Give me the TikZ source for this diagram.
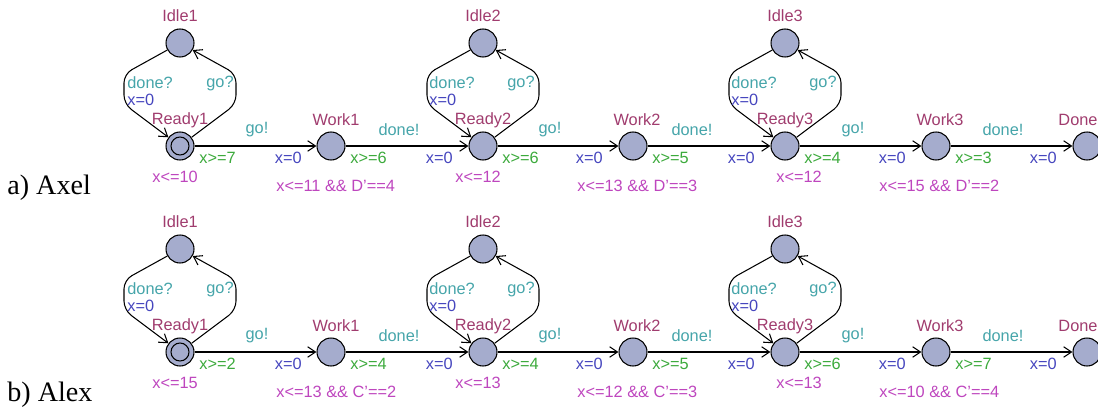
\documentclass[tikz,border=0pt]{standalone}
\usepackage{fontspec}
\setmainfont{Liberation Serif}
\setsansfont{Liberation Sans}
\usetikzlibrary{arrows.meta}
\definecolor{locfill}{RGB}{165,172,205}
\definecolor{namecol}{RGB}{160,60,110}
\definecolor{chancol}{RGB}{70,165,170}
\definecolor{asgcol}{RGB}{70,70,190}
\definecolor{grdcol}{RGB}{60,170,60}
\definecolor{invcol}{RGB}{190,70,190}
\tikzset{
  loc/.style={circle,draw,line width=0.6pt,fill=locfill,minimum size=0.56cm,inner sep=0pt},
  initloc/.style={loc,path picture={\draw[line width=0.6pt] (path picture bounding box.center) circle (0.18cm);}},
  trans/.style={line width=0.6pt,-{Straight Barb[length=4.5pt,width=6pt]}},
  lbl/.style={inner sep=0pt,font=\sffamily\fontsize{9.3}{10}\selectfont},
  locname/.style={lbl,text=namecol},
  chan/.style={lbl,text=chancol},
  asg/.style={lbl,text=asgcol},
  grd/.style={lbl,text=grdcol},
  inv/.style={lbl,text=invcol},
  rowname/.style={anchor=west,inner sep=0pt,font=\fontsize{16}{18}\selectfont}
}
\begin{document}
\begin{tikzpicture}[x=0.02cm,y=-0.02cm]
        \useasboundingbox (0,0) rectangle (1098,412);
        % a) Axel
        \node[rowname] (rowA) at (7,188) {a) Axel};
        \node[loc] (idleA1) at (180,43) {};
        \node[initloc] (readyA1) at (180,146) {};
        \node[loc] (workA1) at (331,146) {};
        \node[loc] (idleA2) at (483,43) {};
        \node[loc] (readyA2) at (483,146) {};
        \node[loc] (workA2) at (633,146) {};
        \node[loc] (idleA3) at (785,43) {};
        \node[loc] (readyA3) at (785,146) {};
        \node[loc] (workA3) at (936,146) {};
        \node[loc] (doneA) at (1087,146) {};

        \node[locname] (nIdleA1) at (180,16) {Idle1};
        \node[locname] (nReadyA1) at (180,120) {Ready1};
        \node[locname] (nWorkA1) at (336,120) {Work1};
        \node[locname] (nIdleA2) at (483,16) {Idle2};
        \node[locname] (nReadyA2) at (483,120) {Ready2};
        \node[locname] (nWorkA2) at (637,120) {Work2};
        \node[locname] (nIdleA3) at (785,16) {Idle3};
        \node[locname] (nReadyA3) at (785,120) {Ready3};
        \node[locname] (nWorkA3) at (940,120) {Work3};
        \node[locname] (nDoneA) at (1078,120) {Done};

        \draw[trans,rounded corners=5pt] (idleA1) -- +(-56,31) -- +(-56,61) -- (readyA1);
        \draw[trans,rounded corners=5pt] (readyA1) -- +(56,-42) -- +(56,-72) -- (idleA1);
        \draw[trans,rounded corners=5pt] (idleA2) -- +(-56,31) -- +(-56,61) -- (readyA2);
        \draw[trans,rounded corners=5pt] (readyA2) -- +(56,-42) -- +(56,-72) -- (idleA2);
        \draw[trans,rounded corners=5pt] (idleA3) -- +(-56,31) -- +(-56,61) -- (readyA3);
        \draw[trans,rounded corners=5pt] (readyA3) -- +(56,-42) -- +(56,-72) -- (idleA3);
        \draw[trans] (readyA1) -- (workA1);
        \draw[trans] (workA1) -- (readyA2);
        \draw[trans] (readyA2) -- (workA2);
        \draw[trans] (workA2) -- (readyA3);
        \draw[trans] (readyA3) -- (workA3);
        \draw[trans] (workA3) -- (doneA);

        % loops
        \node[chan,anchor=west] (cDoneA1) at (127,83) {done?};
        \node[asg,anchor=west] (aLoopA1) at (127,100) {x=0};
        \node[chan] (cGoA1) at (220,83) {go?};
        \node[chan,anchor=west] (cDoneA2) at (429,83) {done?};
        \node[asg,anchor=west] (aLoopA2) at (429,100) {x=0};
        \node[chan] (cGoA2) at (521,83) {go?};
        \node[chan,anchor=west] (cDoneA3) at (731,83) {done?};
        \node[asg,anchor=west] (aLoopA3) at (731,100) {x=0};
        \node[chan] (cGoA3) at (823,83) {go?};

        % channels
        \node[chan] (cGoA4) at (257,130) {go!};
        \node[chan] (cDoneA4) at (399,130) {done!};
        \node[chan] (cGoA5) at (550,130) {go!};
        \node[chan] (cDoneA5) at (692,130) {done!};
        \node[chan] (cGoA6) at (853,130) {go!};
        \node[chan] (cDoneA6) at (1003,130) {done!};

        % guards and resets
        \node[grd,anchor=west] (gA1) at (199,158) {x>=7};
        \node[asg,anchor=east] (aA1) at (302,158) {x=0};
        \node[grd,anchor=west] (gA2) at (350,158) {x>=6};
        \node[asg,anchor=east] (aA2) at (453,158) {x=0};
        \node[grd,anchor=west] (gA3) at (502,158) {x>=6};
        \node[asg,anchor=east] (aA3) at (603,158) {x=0};
        \node[grd,anchor=west] (gA4) at (652,158) {x>=5};
        \node[asg,anchor=east] (aA4) at (755,158) {x=0};
        \node[grd,anchor=west] (gA5) at (804,158) {x>=4};
        \node[asg,anchor=east] (aA5) at (906,158) {x=0};
        \node[grd,anchor=west] (gA6) at (955,158) {x>=3};
        \node[asg,anchor=east] (aA6) at (1057,158) {x=0};

        % invariants
        \node[inv,anchor=west] (iA1) at (152,177) {x<=10};
        \node[inv,anchor=west] (iA2) at (276,186) {x<=11 \&\& D’==4};
        \node[inv,anchor=west] (iA3) at (455,177) {x<=12};
        \node[inv,anchor=west] (iA4) at (577,186) {x<=13 \&\& D’==3};
        \node[inv,anchor=west] (iA5) at (776,177) {x<=12};
        \node[inv,anchor=west] (iA6) at (879,186) {x<=15 \&\& D’==2};

        % b) Alex
        \node[rowname] (rowB) at (7,395) {b) Alex};
        \node[loc] (idleB1) at (180,249) {};
        \node[initloc] (readyB1) at (180,352) {};
        \node[loc] (workB1) at (331,352) {};
        \node[loc] (idleB2) at (483,249) {};
        \node[loc] (readyB2) at (483,352) {};
        \node[loc] (workB2) at (633,352) {};
        \node[loc] (idleB3) at (785,249) {};
        \node[loc] (readyB3) at (785,352) {};
        \node[loc] (workB3) at (936,352) {};
        \node[loc] (doneB) at (1087,352) {};

        \node[locname] (nIdleB1) at (180,222) {Idle1};
        \node[locname] (nReadyB1) at (180,326) {Ready1};
        \node[locname] (nWorkB1) at (336,326) {Work1};
        \node[locname] (nIdleB2) at (483,222) {Idle2};
        \node[locname] (nReadyB2) at (483,326) {Ready2};
        \node[locname] (nWorkB2) at (637,326) {Work2};
        \node[locname] (nIdleB3) at (785,222) {Idle3};
        \node[locname] (nReadyB3) at (785,326) {Ready3};
        \node[locname] (nWorkB3) at (940,326) {Work3};
        \node[locname] (nDoneB) at (1078,326) {Done};

        \draw[trans,rounded corners=5pt] (idleB1) -- +(-56,31) -- +(-56,61) -- (readyB1);
        \draw[trans,rounded corners=5pt] (readyB1) -- +(56,-42) -- +(56,-72) -- (idleB1);
        \draw[trans,rounded corners=5pt] (idleB2) -- +(-56,31) -- +(-56,61) -- (readyB2);
        \draw[trans,rounded corners=5pt] (readyB2) -- +(56,-42) -- +(56,-72) -- (idleB2);
        \draw[trans,rounded corners=5pt] (idleB3) -- +(-56,31) -- +(-56,61) -- (readyB3);
        \draw[trans,rounded corners=5pt] (readyB3) -- +(56,-42) -- +(56,-72) -- (idleB3);
        \draw[trans] (readyB1) -- (workB1);
        \draw[trans] (workB1) -- (readyB2);
        \draw[trans] (readyB2) -- (workB2);
        \draw[trans] (workB2) -- (readyB3);
        \draw[trans] (readyB3) -- (workB3);
        \draw[trans] (workB3) -- (doneB);

        % loops
        \node[chan,anchor=west] (cDoneB1) at (127,289) {done?};
        \node[asg,anchor=west] (aLoopB1) at (127,306) {x=0};
        \node[chan] (cGoB1) at (220,289) {go?};
        \node[chan,anchor=west] (cDoneB2) at (429,289) {done?};
        \node[asg,anchor=west] (aLoopB2) at (429,306) {x=0};
        \node[chan] (cGoB2) at (521,289) {go?};
        \node[chan,anchor=west] (cDoneB3) at (731,289) {done?};
        \node[asg,anchor=west] (aLoopB3) at (731,306) {x=0};
        \node[chan] (cGoB3) at (823,289) {go?};

        % channels
        \node[chan] (cGoB4) at (257,336) {go!};
        \node[chan] (cDoneB4) at (399,336) {done!};
        \node[chan] (cGoB5) at (550,336) {go!};
        \node[chan] (cDoneB5) at (692,336) {done!};
        \node[chan] (cGoB6) at (853,336) {go!};
        \node[chan] (cDoneB6) at (1003,336) {done!};

        % guards and resets
        \node[grd,anchor=west] (gB1) at (199,364) {x>=2};
        \node[asg,anchor=east] (aB1) at (302,364) {x=0};
        \node[grd,anchor=west] (gB2) at (350,364) {x>=4};
        \node[asg,anchor=east] (aB2) at (453,364) {x=0};
        \node[grd,anchor=west] (gB3) at (502,364) {x>=4};
        \node[asg,anchor=east] (aB3) at (603,364) {x=0};
        \node[grd,anchor=west] (gB4) at (652,364) {x>=5};
        \node[asg,anchor=east] (aB4) at (755,364) {x=0};
        \node[grd,anchor=west] (gB5) at (804,364) {x>=6};
        \node[asg,anchor=east] (aB5) at (906,364) {x=0};
        \node[grd,anchor=west] (gB6) at (955,364) {x>=7};
        \node[asg,anchor=east] (aB6) at (1057,364) {x=0};

        % invariants
        \node[inv,anchor=west] (iB1) at (152,383) {x<=15};
        \node[inv,anchor=west] (iB2) at (276,392) {x<=13 \&\& C’==2};
        \node[inv,anchor=west] (iB3) at (455,383) {x<=13};
        \node[inv,anchor=west] (iB4) at (577,392) {x<=12 \&\& C’==3};
        \node[inv,anchor=west] (iB5) at (776,383) {x<=13};
        \node[inv,anchor=west] (iB6) at (879,392) {x<=10 \&\& C’==4};
\end{tikzpicture}
\end{document}
